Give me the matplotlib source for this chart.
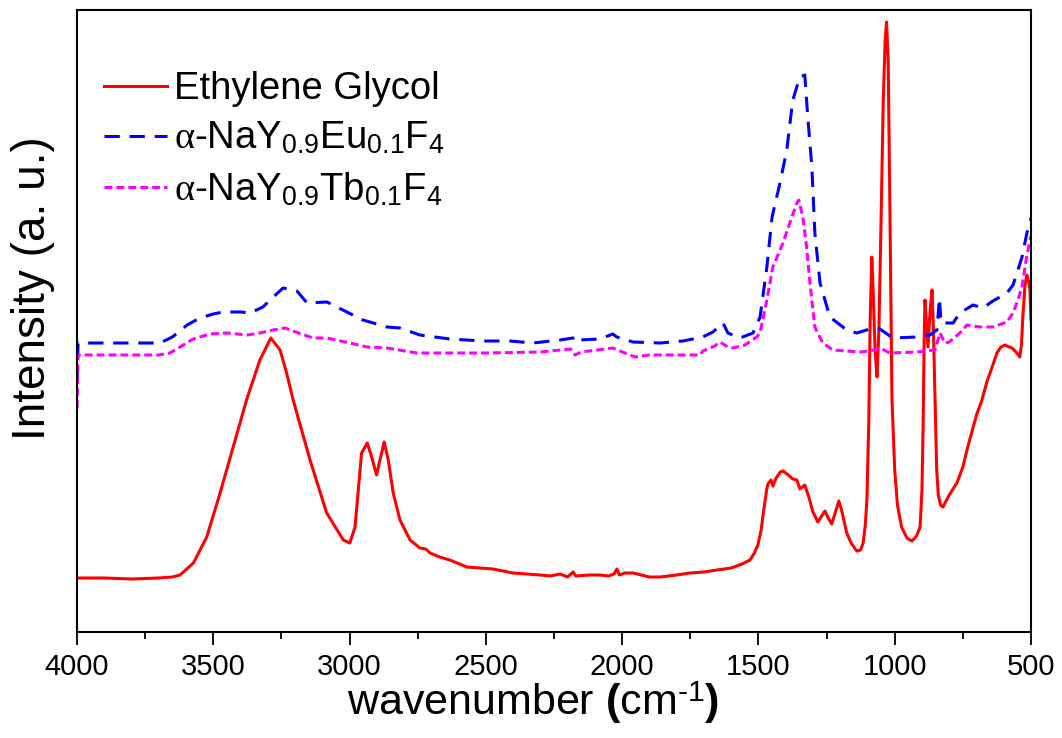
import matplotlib
matplotlib.use("Agg")
import matplotlib.pyplot as plt
from matplotlib.ticker import MultipleLocator, NullLocator

plt.rcParams['font.family'] = ['Liberation Sans', 'DejaVu Sans']
plt.rcParams['mathtext.fontset'] = 'custom'
plt.rcParams['mathtext.rm'] = 'Liberation Sans'
plt.rcParams['mathtext.it'] = 'Liberation Serif'
plt.rcParams['mathtext.bf'] = 'Liberation Sans:bold'

# ---- data (wavenumber in cm^-1, intensity in arbitrary units) ----
eg_wn = [4000, 3900, 3800, 3700, 3650, 3622, 3573, 3524, 3475, 3427, 3378, 3329, 3289,
         3255, 3231, 3207, 3145, 3084, 3023, 2999, 2980, 2969, 2956, 2935, 2919, 2901,
         2886, 2873, 2858, 2840, 2815, 2778, 2742, 2720, 2705, 2670, 2632, 2570, 2474,
         2401, 2300, 2265, 2228, 2200, 2180, 2170, 2120, 2082, 2050, 2030, 2019, 2010, 1990,
         1960, 1930, 1900, 1861, 1800, 1751, 1700, 1652, 1600, 1560, 1531, 1515, 1502, 1490,
         1483, 1470, 1465, 1454, 1447, 1435, 1420, 1410, 1395, 1374, 1359, 1348, 1330, 1315,
         1300, 1282, 1268, 1256, 1244, 1231, 1215, 1205, 1195, 1176, 1160, 1139, 1125, 1116,
         1108, 1102, 1095, 1090, 1084, 1078, 1072, 1065, 1058, 1050, 1042, 1035, 1030, 1024,
         1018, 1010, 1000, 990, 975, 955, 937, 920, 907, 900, 896, 892, 889, 884, 878, 870,
         863, 858, 852, 846, 840, 832, 823, 800, 772, 750, 735, 700, 680, 662, 640, 625, 610,
         596, 580, 570, 555, 541, 535, 530, 522, 515, 508, 504, 500]
eg_int = [54, 54, 53, 54, 55, 57, 69, 95, 139, 185, 232, 272, 294,
          282, 259, 232, 172, 119, 92, 89, 105, 139, 179, 189, 175, 157,
          175, 190, 172, 139, 112, 92, 84, 83, 79, 75, 72, 65, 63,
          59, 57, 56, 58, 55, 60, 56, 57, 57, 56, 58, 63, 57, 59,
          59, 57, 55, 55, 57, 59, 60, 62, 64, 68, 72, 79, 87, 102,
          117, 142, 148, 152, 146, 154, 160, 161, 158, 153, 152, 143, 147, 135,
          120, 110, 116, 121, 114, 108, 122, 131, 122, 99, 89, 81, 82, 89,
          107, 132, 212, 312, 375, 332, 282, 255, 302, 412, 532, 592, 610, 572,
          432, 232, 162, 127, 105, 94, 91, 96, 105, 142, 202, 292, 332, 312, 285, 322,
          342, 302, 232, 162, 137, 127, 125, 137, 149, 165, 182, 217, 232, 250, 267, 279, 285,
          287, 285, 284, 280, 275, 287, 315, 347, 357, 350, 342, 312]

eu_wn = [4000, 3996, 3900, 3800, 3696, 3650, 3596, 3549, 3500, 3464, 3400, 3365, 3318, 3280,
         3244, 3193, 3156, 3083, 3010, 2951, 2863, 2815, 2742, 2632, 2511, 2412, 2327, 2228,
         2180, 2170, 2160, 2082, 2034, 2020, 1960, 1861, 1777, 1704, 1667, 1630, 1612, 1568,
         1520, 1494, 1469, 1450, 1421, 1396, 1374, 1348, 1330, 1319, 1304, 1293, 1274, 1238,
         1176, 1139, 1091, 1054, 1007, 919, 871, 845, 836, 830, 786, 761, 713, 676, 640, 588,
         566, 548, 533, 515, 500]
eu_int = [249, 289, 289, 289, 289, 295, 307, 314, 318, 320, 320, 319, 325, 335,
          344, 341, 329, 330, 320, 312, 305, 304, 297, 293, 291, 291, 289, 292,
          294, 296, 292, 293, 298, 295, 290, 289, 291, 295, 300, 309, 299, 294,
          299, 315, 365, 415, 449, 482, 532, 555, 557, 515, 465, 399, 349, 315,
          302, 299, 303, 303, 294, 295, 297, 302, 334, 309, 309, 319, 327, 324, 331, 339,
          347, 362, 375, 399, 414]

tb_wn = [4000, 3996, 3900, 3800, 3700, 3659, 3622, 3574, 3512, 3450, 3376, 3329, 3281, 3237,
         3208, 3134, 3083, 2999, 2936, 2863, 2753, 2632, 2500, 2300, 2189, 2173, 2150, 2034,
         1990, 1952, 1900, 1715, 1704, 1660, 1641, 1612, 1594, 1550, 1506, 1494, 1469, 1447,
         1410, 1385, 1359, 1352, 1337, 1322, 1311, 1293, 1264, 1227, 1128, 1091, 1054, 1018,
         919, 852, 834, 816, 800, 761, 735, 688, 640, 588, 566, 548, 533, 515, 500]
tb_int = [224, 277, 277, 277, 277, 279, 285, 293, 298, 299, 297, 299, 302, 304,
          301, 294, 294, 289, 285, 284, 279, 279, 279, 280, 283, 277, 280, 284,
          279, 275, 277, 277, 281, 286, 290, 285, 284, 287, 295, 299, 332, 365,
          389, 409, 429, 432, 415, 382, 349, 305, 289, 282, 280, 281, 284, 279,
          280, 282, 299, 289, 290, 299, 307, 305, 305, 310, 319, 332, 345, 377, 396]

labels = ['Ethylene Glycol',
          r'$\alpha$-NaY$_{0.9}$Eu$_{0.1}$F$_{4}$',
          r'$\alpha$-NaY$_{0.9}$Tb$_{0.1}$F$_{4}$']
xticks = [4000, 3500, 3000, 2500, 2000, 1500, 1000, 500]

fig = plt.figure(figsize=(10.62, 7.38), dpi=100)
ax = fig.add_axes([77/1062, 1 - 632/738, (1031-77)/1062, (632-10)/738])

ax.plot(eg_wn, eg_int, color='#ff0000', lw=2.2, label=labels[0])
ax.plot(eu_wn, eu_int, color='#0000ff', lw=2.2, dashes=(5, 3.2), label=labels[1])
ax.plot(tb_wn, tb_int, color='#ff00ff', lw=2.2, dashes=(2.6, 1.3), label=labels[2])

ax.set_xlim(4000, 500)
ax.set_ylim(0, 622)
ax.set_xticks(xticks)
ax.set_xticklabels([str(t) for t in xticks])
ax.xaxis.set_minor_locator(MultipleLocator(250))
ax.yaxis.set_major_locator(NullLocator())
ax.tick_params(axis='x', which='major', direction='out', length=9, width=1.3, labelsize=21, pad=6)
ax.tick_params(axis='x', which='minor', direction='out', length=5, width=1.3)
ax.tick_params(axis='x', top=False)
for s in ax.spines.values():
    s.set_linewidth(1.5)

ax.set_xlabel(r'wavenumber $\mathbf{(}$cm$^{\text{-1}}$$\mathbf{)}$', fontsize=31)
ax.xaxis.set_label_coords((533-77)/954, -0.077)
ax.set_ylabel('Intensity (a. u.)', fontsize=33)
ax.yaxis.set_label_coords(-0.023, (632-288)/622)

leg = ax.legend(loc='upper left', bbox_to_anchor=(0.0, 0.945), frameon=False, fontsize=27.5,
                handlelength=1.65, handletextpad=0.2, labelspacing=0.36, borderaxespad=0.3)

fig.savefig('out.png', dpi=100)
